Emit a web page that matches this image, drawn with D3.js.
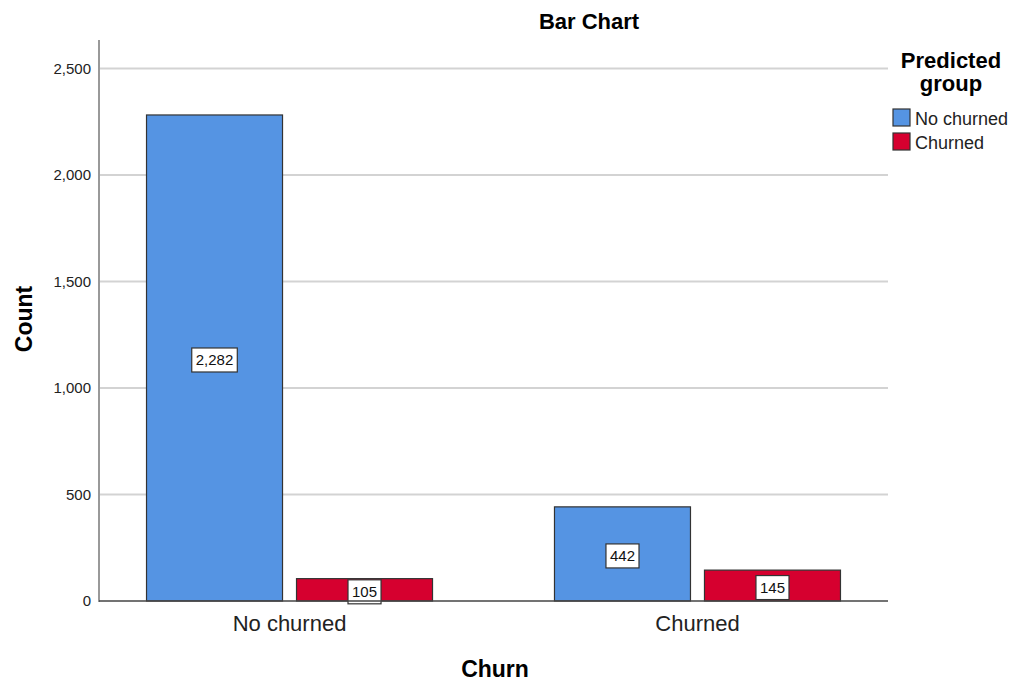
<!DOCTYPE html>
<html>
<head>
<meta charset="utf-8">
<script src="https://cdn.jsdelivr.net/npm/d3@7"></script>
<style>
  html, body { margin: 0; padding: 0; background: #fff; }
  svg { display: block; font-family: "Liberation Sans", Arial, sans-serif; }
</style>
</head>
<body>
<svg id="chart" width="1013" height="682"></svg>
<script>
// Churn (actual) vs predicted group counts
const categories = ["No churned", "Churned"];
const groups = ["No churned", "Churned"];
const countsNoChurnedPred = [2282, 442];
const countsChurnedPred = [105, 145];
const yTicks = [0, 500, 1000, 1500, 2000, 2500];
const groupColors = ["#5594e3", "#d6002f"];

const series = [countsNoChurnedPred, countsChurnedPred];
const rows = categories.map((c, i) => ({
  category: c,
  values: groups.map((g, j) => ({ group: g, gi: j, value: series[j][i] }))
}));

const svg = d3.select("#chart");
const plot = { left: 99, right: 888, top: 40, bottom: 601 };

const x = d3.scalePoint().domain(categories).range([plot.left, plot.right]).padding(0.467);
const xInner = d3.scaleBand().domain(groups).range([-143, 143]).paddingInner(0.0933).paddingOuter(0);
const y = d3.scaleLinear().domain([0, 2634]).range([plot.bottom, plot.top]);
const fmt = d3.format(",");

// grid lines
svg.append("g")
  .selectAll("line")
  .data(yTicks.filter(d => d > 0))
  .join("line")
  .attr("x1", plot.left).attr("x2", plot.right)
  .attr("y1", d => y(d)).attr("y2", d => y(d))
  .attr("stroke", "#d3d3d3").attr("stroke-width", 2);

// y axis
const yAxis = svg.append("g")
  .attr("transform", `translate(${plot.left},0)`)
  .call(d3.axisLeft(y).tickValues(yTicks).tickFormat(fmt).tickSize(0).tickPadding(8));
yAxis.select(".domain").remove();
yAxis.selectAll("text").attr("font-size", 15).attr("fill", "#222")
  .attr("font-family", "Liberation Sans, Arial, sans-serif");
svg.append("line")
  .attr("x1", plot.left).attr("x2", plot.left)
  .attr("y1", plot.top).attr("y2", plot.bottom + 1)
  .attr("stroke", "#999").attr("stroke-width", 2);

// bars
const groupG = svg.append("g").selectAll("g")
  .data(rows)
  .join("g")
  .attr("transform", d => `translate(${x(d.category)},0)`);

groupG.selectAll("rect")
  .data(d => d.values)
  .join("rect")
  .attr("x", d => xInner(d.group))
  .attr("width", xInner.bandwidth())
  .attr("y", d => y(d.value))
  .attr("height", d => y(0) - y(d.value))
  .attr("fill", d => groupColors[d.gi])
  .attr("stroke", "#333")
  .attr("stroke-width", 1.2);

// x baseline
svg.append("line")
  .attr("x1", plot.left).attr("x2", plot.right)
  .attr("y1", plot.bottom).attr("y2", plot.bottom)
  .attr("stroke", "#444").attr("stroke-width", 1.5);

// value labels in boxes
const labelG = groupG.selectAll("g.lbl")
  .data(d => d.values)
  .join("g")
  .attr("class", "lbl")
  .attr("transform", d => `translate(${xInner(d.group) + xInner.bandwidth() / 2},${(y(d.value) + y(0)) / 2 + 2})`);

labelG.append("text")
  .attr("text-anchor", "middle")
  .attr("dominant-baseline", "central")
  .attr("font-size", 15)
  .attr("fill", "#111")
  .text(d => fmt(d.value))
  .each(function () {
    const b = this.getBBox();
    d3.select(this.parentNode).insert("rect", "text")
      .attr("x", b.x - 4).attr("y", -12)
      .attr("width", b.width + 8).attr("height", 24)
      .attr("fill", "#fff").attr("stroke", "#333").attr("stroke-width", 1.2);
  });

// x category labels
svg.append("g")
  .selectAll("text")
  .data(categories)
  .join("text")
  .attr("x", d => x(d))
  .attr("y", 631)
  .attr("text-anchor", "middle")
  .attr("font-size", 22)
  .attr("fill", "#222")
  .text(d => d);

// titles
svg.append("text")
  .attr("x", 589).attr("y", 29)
  .attr("text-anchor", "middle")
  .attr("font-size", 22).attr("font-weight", "bold")
  .text("Bar Chart");

svg.append("text")
  .attr("x", 495).attr("y", 677)
  .attr("text-anchor", "middle")
  .attr("font-size", 23).attr("font-weight", "bold")
  .text("Churn");

svg.append("text")
  .attr("transform", "translate(32,319) rotate(-90)")
  .attr("text-anchor", "middle")
  .attr("font-size", 23).attr("font-weight", "bold")
  .text("Count");

// legend
const legend = svg.append("g");
legend.append("text")
  .attr("x", 951).attr("y", 68)
  .attr("text-anchor", "middle")
  .attr("font-size", 22).attr("font-weight", "bold")
  .selectAll("tspan")
  .data(["Predicted", "group"])
  .join("tspan")
  .attr("x", 951)
  .attr("dy", (d, i) => i === 0 ? 0 : 23)
  .text(d => d);

const items = legend.selectAll("g.item")
  .data(groups)
  .join("g")
  .attr("class", "item")
  .attr("transform", (d, i) => `translate(893,${109 + i * 24})`);
items.append("rect")
  .attr("width", 17).attr("height", 17)
  .attr("fill", (d, i) => groupColors[i])
  .attr("stroke", "#333").attr("stroke-width", 1.2);
items.append("text")
  .attr("x", 22).attr("y", 10)
  .attr("dominant-baseline", "central")
  .attr("font-size", 18)
  .attr("fill", "#222")
  .text(d => d);
</script>
</body>
</html>
